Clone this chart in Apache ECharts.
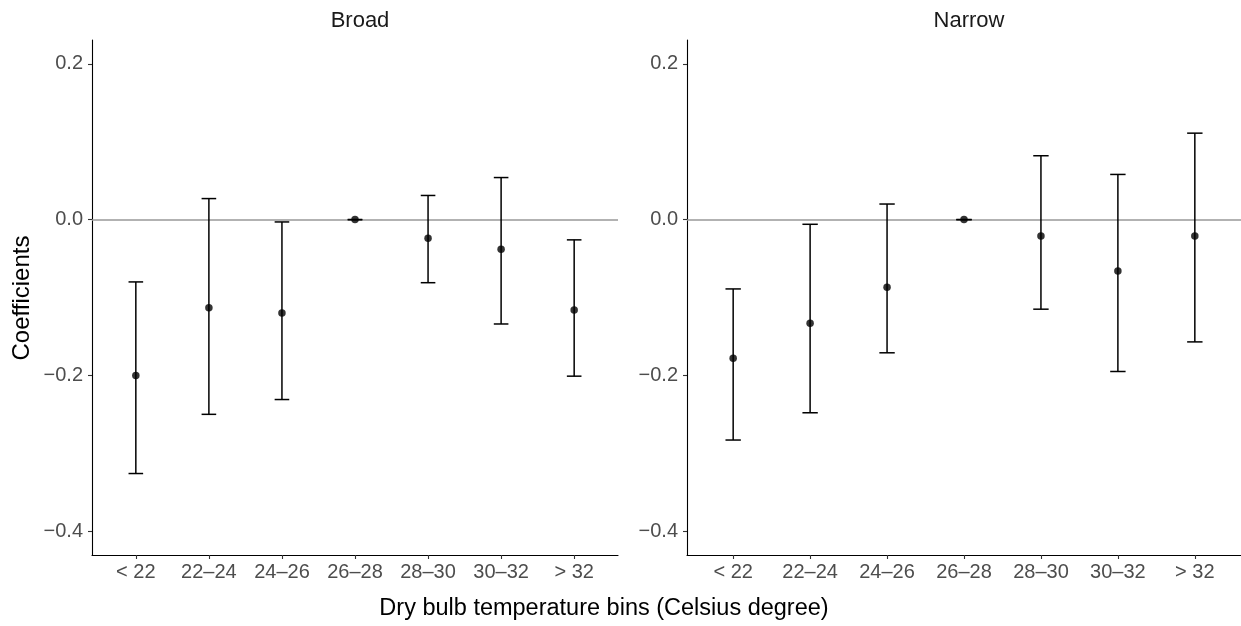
<!DOCTYPE html>
<html>
<head>
<meta charset="utf-8">
<script src="https://cdn.jsdelivr.net/npm/echarts@6/dist/echarts.min.js"></script>
<style>
  html, body { margin: 0; padding: 0; background: #fff; }
  #chart { width: 1241px; height: 626px; }
</style>
</head>
<body>
<div id="chart"></div>
<script>
// Temperature bins shared by both panels
const bins = ['< 22', '22\u201324', '24\u201326', '26\u201328', '28\u201330', '30\u201332', '> 32'];
const panels = ['Broad', 'Narrow'];

// Broad definition: point estimates and confidence bounds
const broadEst   = [-0.200, -0.113, -0.120, 0, -0.024, -0.038, -0.116];
const broadLower = [-0.326, -0.250, -0.231, 0, -0.081, -0.134, -0.201];
const broadUpper = [-0.080,  0.027, -0.003, 0,  0.031,  0.054, -0.026];

// Narrow definition: point estimates and confidence bounds
const narrowEst   = [-0.178, -0.133, -0.087, 0, -0.021, -0.066, -0.021];
const narrowLower = [-0.283, -0.248, -0.171, 0, -0.115, -0.195, -0.157];
const narrowUpper = [-0.089, -0.006,  0.020, 0,  0.082,  0.058,  0.111];

// Y axis tick labels
const yTicks = [-0.4, -0.2, 0.0, 0.2];

const FONT = 'Liberation Sans, Arial, Helvetica, sans-serif';
const Y_MIN = -0.4306, Y_MAX = 0.2306;

function fmtTick(v) {
  return (v < 0 ? '\u2212' : '') + Math.abs(v).toFixed(1);
}

const grids = [
  { left: 92, right: 623, top: 40, bottom: 71 },
  { left: 687, right: 0, top: 40, bottom: 71 }
];

function makeX(gi) {
  const idx = bins.map((_, i) => i);
  return {
    type: 'value', gridIndex: gi, min: -0.6, max: 6.6,
    splitLine: { show: false },
    axisLine: { show: true, onZero: false, lineStyle: { color: '#000', width: 1.1 } },
    axisTick: { show: true, length: 4, customValues: idx, lineStyle: { color: '#333', width: 1.1 } },
    axisLabel: {
      customValues: idx, margin: 7, color: '#4d4d4d', fontSize: 20, fontFamily: FONT,
      formatter: v => bins[Math.round(v)]
    }
  };
}

function makeY(gi) {
  return {
    type: 'value', gridIndex: gi, min: Y_MIN, max: Y_MAX,
    splitLine: { show: false },
    axisLine: { show: true, onZero: false, lineStyle: { color: '#000', width: 1.1 } },
    axisTick: { show: true, length: 4, customValues: yTicks, lineStyle: { color: '#333', width: 1.1 } },
    axisLabel: {
      customValues: yTicks, margin: 9, color: '#4d4d4d', fontSize: 20, fontFamily: FONT,
      formatter: v => fmtTick(v)
    }
  };
}

function errorBars(gi, lower, upper) {
  return {
    type: 'custom', xAxisIndex: gi, yAxisIndex: gi, z: 3,
    data: bins.map((_, i) => [i, lower[i], upper[i]]),
    renderItem: function (params, api) {
      const x = api.value(0);
      const lo = api.coord([x, api.value(1)]);
      const hi = api.coord([x, api.value(2)]);
      const half = api.size([1, 0])[0] * 0.1;
      const style = { stroke: '#000', lineWidth: 1.5, fill: null };
      return {
        type: 'group',
        children: [
          { type: 'line', shape: { x1: lo[0], y1: lo[1], x2: hi[0], y2: hi[1] }, style },
          { type: 'line', shape: { x1: lo[0] - half, y1: lo[1], x2: lo[0] + half, y2: lo[1] }, style },
          { type: 'line', shape: { x1: hi[0] - half, y1: hi[1], x2: hi[0] + half, y2: hi[1] }, style }
        ]
      };
    }
  };
}

function points(gi, est) {
  return {
    type: 'scatter', xAxisIndex: gi, yAxisIndex: gi, z: 4,
    symbol: 'circle', symbolSize: 7.5,
    itemStyle: { color: '#000' },
    data: est.map((v, i) => [i, v]),
    markLine: {
      silent: true, symbol: 'none', z: 1,
      label: { show: false },
      lineStyle: { color: '#999', width: 1.5, type: 'solid' },
      data: [{ yAxis: 0 }]
    }
  };
}

const chart = echarts.init(document.getElementById('chart'), null, { renderer: 'canvas' });
chart.setOption({
  animation: false,
  backgroundColor: '#fff',
  title: [
    { text: panels[0], left: 355, top: 5, textAlign: 'center',
      textStyle: { fontSize: 22, fontWeight: 'normal', color: '#1a1a1a', fontFamily: FONT } },
    { text: panels[1], left: 964, top: 5, textAlign: 'center',
      textStyle: { fontSize: 22, fontWeight: 'normal', color: '#1a1a1a', fontFamily: FONT } }
  ],
  graphic: [
    { type: 'text', x: 604, y: 609,
      style: { text: 'Dry bulb temperature bins (Celsius degree)', fontSize: 23.5, fill: '#000',
               fontFamily: FONT, align: 'center', verticalAlign: 'middle' } },
    { type: 'text', x: 22, y: 298, rotation: Math.PI / 2, originX: 0, originY: 0,
      style: { text: 'Coefficients', fontSize: 24, fill: '#000', fontFamily: FONT,
               align: 'center', verticalAlign: 'middle' } }
  ],
  grid: grids,
  xAxis: [makeX(0), makeX(1)],
  yAxis: [makeY(0), makeY(1)],
  series: [
    errorBars(0, broadLower, broadUpper),
    points(0, broadEst),
    errorBars(1, narrowLower, narrowUpper),
    points(1, narrowEst)
  ]
});
</script>
</body>
</html>
